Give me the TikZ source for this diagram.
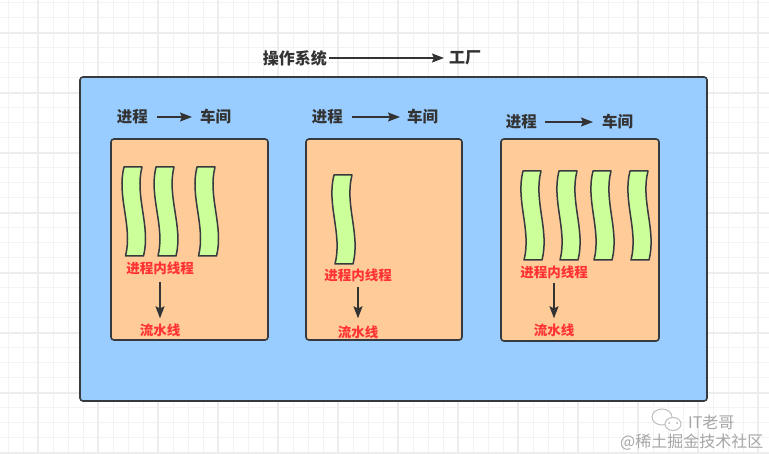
\documentclass[tikz,border=0pt]{standalone}
\usepackage{fontspec}
\newfontfamily\cjk{Noto Sans CJK SC}
\usetikzlibrary{arrows.meta}
\definecolor{bluefill}{HTML}{99CCFF}
\definecolor{orangefill}{HTML}{FFCC99}
\definecolor{greenfill}{HTML}{CCFF99}
\definecolor{edge}{HTML}{36393D}
\definecolor{txt}{HTML}{333333}
\definecolor{redtxt}{HTML}{FF3333}
\definecolor{gridc}{HTML}{F3F3F3}
\definecolor{gridm}{HTML}{EDEDED}
\tikzset{
  gridminor/.style={draw=gridc, line width=1pt},
  gridmajor/.style={draw=gridm, line width=1.2pt},
  outerbox/.style={draw=edge, fill=bluefill, line width=1.6pt, rounded corners=3pt},
  procbox/.style={draw=edge, fill=orangefill, line width=1.6pt, rounded corners=3pt},
  threadshape/.style={draw=edge, fill=greenfill, line width=1.5pt, line join=round},
  lbl/.style={inner sep=0pt, text=txt, font=\cjk\bfseries\fontsize{15.5pt}{18pt}\selectfont},
  title/.style={inner sep=0pt, text=txt, font=\cjk\bfseries\fontsize{16pt}{19pt}\selectfont},
  redlbl/.style={inner sep=0pt, text=redtxt, font=\cjk\bfseries\fontsize{13.5pt}{16pt}\selectfont},
  arr/.style={draw=txt, line width=1.4pt, -{Stealth[length=12pt,width=9pt,inset=2pt]}},
  wm/.style={inner sep=0pt, text=black!35, font=\cjk\fontsize{16pt}{19pt}\selectfont},
}
% thread: x0 top, top y, bottom y, bottom x shift
\newcommand{\wavything}[4]{%
  \pgfmathsetmacro{\hh}{#3-#2}
  \draw[threadshape] (#1,#2) -- (#1+18,#2)
    .. controls (#1+18-8+#4/3,#2+\hh/3) and (#1+18+8+2*#4/3,#2+2*\hh/3) .. (#1+18+#4,#3)
    -- (#1+#4,#3)
    .. controls (#1+8+2*#4/3,#2+2*\hh/3) and (#1-8+#4/3,#2+\hh/3) .. cycle;
}
\begin{document}
\begin{tikzpicture}[x=1pt,y=-1pt]
\useasboundingbox (0,0) rectangle (769,454);
\fill[white] (0,0) rectangle (769,454);
% grid
\foreach \x in {8,23,...,768} \draw[gridminor] (\x,0) -- (\x,454);
\foreach \y in {3,18,...,453} \draw[gridminor] (0,\y) -- (769,\y);
\foreach \x in {38,98,...,768} \draw[gridmajor] (\x,0) -- (\x,454);
\foreach \y in {33,93,...,453} \draw[gridmajor] (0,\y) -- (769,\y);

% title
\node[title, anchor=east] (os) at (327,58) {操作系统};
\node[title, anchor=west] (fac) at (449,58) {工厂};
\draw[arr, shorten <=2pt, shorten >=5pt] (os) -- (fac);

% outer box
\draw[outerbox] (80,77) rectangle (707,401);

% process boxes
\draw[procbox] (111,139) rectangle (268,340);
\draw[procbox] (306,139) rectangle (462,340);
\draw[procbox] (501,139) rectangle (659,341);

% labels above boxes
\node[lbl, anchor=east] (p1) at (148,117) {进程};
\node[lbl, anchor=west] (c1) at (200,117) {车间};
\draw[arr, shorten <=9pt, shorten >=8pt] (p1) -- (c1);
\node[lbl, anchor=east] (p2) at (343,117) {进程};
\node[lbl, anchor=west] (c2) at (407,117) {车间};
\draw[arr, shorten <=9pt, shorten >=7pt] (p2) -- (c2);
\node[lbl, anchor=east] (p3) at (537,122) {进程};
\node[lbl, anchor=west] (c3) at (602,122) {车间};
\draw[arr, shorten <=8pt, shorten >=9pt] (p3) -- (c3);

% threads
\wavything{124}{167}{256}{1.5}
\wavything{156}{167}{256}{2}
\wavything{197}{167}{256}{1.5}
\wavything{334}{175}{264}{1}
\wavything{523}{171}{260}{1}
\wavything{559}{171}{260}{1}
\wavything{593}{171}{260}{1}
\wavything{630}{171}{260}{1}

% thread -> pipeline
\node[redlbl] (t1) at (160,268) {进程内线程};
\node[redlbl] (l1) at (160,330) {流水线};
\draw[arr, shorten <=7pt, shorten >=5pt] (t1) -- (l1);
\node[redlbl] (t2) at (358,275) {进程内线程};
\node[redlbl] (l2) at (358,332) {流水线};
\draw[arr, shorten <=5pt, shorten >=7pt] (t2) -- (l2);
\node[redlbl] (t3) at (554,272) {进程内线程};
\node[redlbl] (l3) at (554,330) {流水线};
\draw[arr, shorten <=4pt, shorten >=5pt] (t3) -- (l3);

% watermark
\draw[black!25, line width=1pt, fill=white] (662,417) ellipse [x radius=10, y radius=8];
\draw[black!25, line width=1pt, fill=white] (673,424) ellipse [x radius=8, y radius=6.5];
\fill[black!30] (669,423) circle (1pt) (677,423) circle (1pt);
\node[wm, anchor=west] (wm1) at (688,422) {IT老哥};
\node[wm, anchor=west] (wm2) at (620,442) {@稀土掘金技术社区};
\end{tikzpicture}
\end{document}
